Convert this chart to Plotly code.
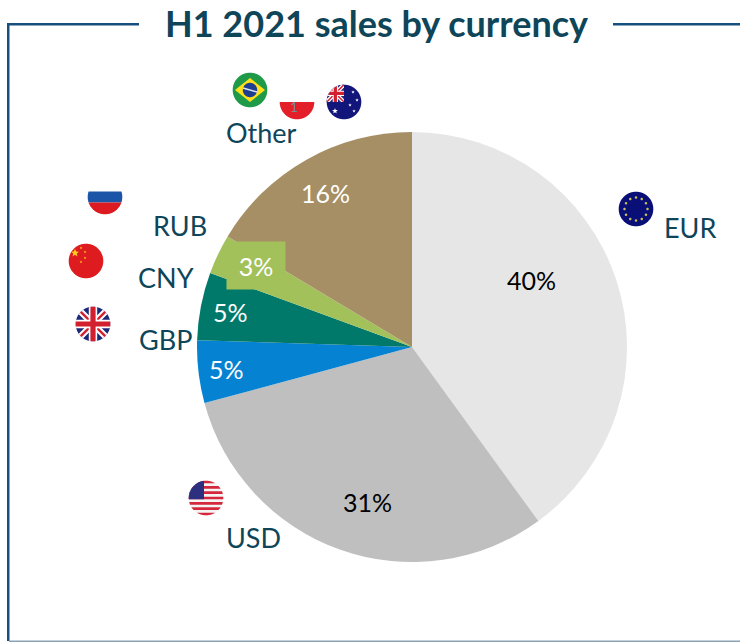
import numpy as np
import plotly.graph_objects as go

W, H = 740, 642
currencies = ["EUR", "USD", "GBP", "CNY", "RUB", "Other"]
shares = [40.0, 30.8, 4.7, 5.1, 3.0, 16.4]
slice_colors = ["#E6E6E6", "#BFBFBF", "#0583D2", "#00796B", "#A2C15A", "#A68F65"]
TITLE = "H1 2021 sales by currency"
NAVY = "#0E4559"
FRAME = "#17507F"

def px(x): return x / W
def py(y): return 1 - y / H

shapes, annotations = [], []

def poly(points, color):
    d = "M " + " L ".join(f"{px(x):.5f},{py(y):.5f}" for x, y in points) + " Z"
    shapes.append(dict(type="path", xref="paper", yref="paper", path=d,
                       fillcolor=color, line=dict(width=0), layer="above"))

def circle_points(cx, cy, r, n=72):
    t = np.linspace(0, 2 * np.pi, n, endpoint=False)
    return list(zip(cx + r * np.cos(t), cy + r * np.sin(t)))

def clip(subject, clipper):
    # Sutherland-Hodgman against a convex polygon
    out = list(subject)
    for i in range(len(clipper)):
        a, b = clipper[i], clipper[(i + 1) % len(clipper)]
        side = lambda p: (b[0]-a[0])*(p[1]-a[1]) - (b[1]-a[1])*(p[0]-a[0])
        cur, out = out, []
        for j in range(len(cur)):
            p, q = cur[j], cur[(j + 1) % len(cur)]
            d1, d2 = side(p), side(q)
            if (d1 >= 0) != (d2 >= 0):
                s = d1 / (d1 - d2)
                out.append((p[0] + s*(q[0]-p[0]), p[1] + s*(q[1]-p[1])))
            if d2 >= 0:
                out.append(q)
        if not out:
            return []
    return out

def cpoly(cx, cy, r, points, color):
    res = clip(points, circle_points(cx, cy, r))
    if len(res) > 2:
        poly(res, color)

def rect(x0, y0, x1, y1):
    return [(x0, y0), (x1, y0), (x1, y1), (x0, y1)]

def bar(x0, y0, x1, y1, w):
    dx, dy = x1 - x0, y1 - y0
    L = np.hypot(dx, dy)
    nx, ny = -dy / L * w / 2, dx / L * w / 2
    return [(x0+nx, y0+ny), (x1+nx, y1+ny), (x1-nx, y1-ny), (x0-nx, y0-ny)]

def star(cx, cy, r, color):
    pts = []
    for k in range(10):
        a = -np.pi / 2 + k * np.pi / 5
        rr = r if k % 2 == 0 else r * 0.42
        pts.append((cx + rr * np.cos(a), cy + rr * np.sin(a)))
    poly(pts, color)

def union_jack(cx, cy, r, x0, y0, x1, y1, scale=1.0):
    box = rect(x0, y0, x1, y1)
    mx, my = (x0 + x1) / 2, (y0 + y1) / 2
    cpoly(cx, cy, r, box, "#1B2A78")
    def put(pts, col):
        c = clip(clip(pts, box), circle_points(cx, cy, r))
        if len(c) > 2:
            poly(c, col)
    for a, b in [((x0, y0), (x1, y1)), ((x0, y1), (x1, y0))]:
        put(bar(a[0], a[1], b[0], b[1], 6.5 * scale), "#FFFFFF")
        put(bar(a[0], a[1], b[0], b[1], 2.4 * scale), "#D3202F")
    put(rect(mx - 4.2*scale, y0, mx + 4.2*scale, y1), "#FFFFFF")
    put(rect(x0, my - 4.2*scale, x1, my + 4.2*scale), "#FFFFFF")
    put(rect(mx - 2.6*scale, y0, mx + 2.6*scale, y1), "#D3202F")
    put(rect(x0, my - 2.6*scale, x1, my + 2.6*scale), "#D3202F")

R = 17.3

# Brazil
cx, cy = 250, 90
poly(circle_points(cx, cy, R), "#1F9A48")
poly([(cx - 15, cy), (cx, cy - 12), (cx + 15, cy), (cx, cy + 12)], "#FFE01B")
poly(circle_points(cx, cy, 7.2), "#1E3F8F")
poly(bar(cx - 7, cy - 2, cx + 7, cy + 2, 1.4), "#DDE6F2")

# Poland
cx, cy = 297, 102
cpoly(cx, cy, R, rect(cx - R, cy, cx + R, cy + R), "#E3202A")

# Australia
cx, cy = 344, 102
poly(circle_points(cx, cy, R), "#12157A")
union_jack(cx, cy, R, cx - R, cy - R, cx, cy, 0.62)
star(cx - 9, cy + 9, 3.0, "#FFFFFF")
for dx, dy in [(9, -10), (13, -2), (6, 3), (10, 9)]:
    star(cx + dx, cy + dy, 1.8, "#FFFFFF")

# Russia
cx, cy = 105, 197
cpoly(cx, cy, R, rect(cx - R, cy - 5.5, cx + R, cy + 5.5), "#1A55A8")
cpoly(cx, cy, R, rect(cx - R, cy + 5.5, cx + R, cy + R), "#DC1A22")

# China
cx, cy = 86, 261
poly(circle_points(cx, cy, R), "#DE1C1F")
star(cx - 11, cy - 8, 4.2, "#FFD21F")
for dx, dy in [(-5, -13), (-1, -9), (-1, -3), (-5, 1)]:
    star(cx + dx, cy + dy, 1.4, "#FFD21F")

# United Kingdom
cx, cy = 93, 324
poly(circle_points(cx, cy, R), "#FFFFFF")
union_jack(cx, cy, R, cx - R, cy - R, cx + R, cy + R, 1.0)

# United States
cx, cy = 206, 498
poly(circle_points(cx, cy, R), "#F4F4F4")
h = 2 * R / 13
for k in range(0, 13, 2):
    cpoly(cx, cy, R, rect(cx - R, cy - R + k * h, cx + R, cy - R + (k + 1) * h), "#D5283C")
cpoly(cx, cy, R, rect(cx - R, cy - R, cx - 2, cy - R + 7 * h), "#2D2F7F")

# EU
cx, cy = 636, 209
poly(circle_points(cx, cy, R), "#0A0F78")
for a in np.arange(12) * np.pi / 6:
    poly(circle_points(cx + 11.5 * np.cos(a), cy + 11.5 * np.sin(a), 1.3, 10), "#C9BE5A")

# Frame
poly(rect(7, 23, 9.5, 641), FRAME)
poly(rect(7, 23, 139, 25.5), FRAME)
poly(rect(613, 23, 740, 25.5), FRAME)
poly(rect(9, 640.5, 740, 642), "#8BA3B4")

def text(x, y, s, size, color, bold=False, **kw):
    annotations.append(dict(
        x=px(x), y=py(y), xref="paper", yref="paper", text=f"<b>{s}</b>" if bold else s,
        showarrow=False, xanchor="center", yanchor="middle",
        font=dict(family="Lato", size=size, color=color), **kw))

text(376, 23, TITLE, 36, NAVY, bold=True)

# Category labels
label_px = [(690, 227), (253, 537), (165, 339), (166, 277), (180, 225), (261, 133)]
for name, (x, y) in zip(currencies, label_px):
    text(x, y, name, 27, NAVY)

# Value labels
value_px = [(531, 280), (367, 502), (227, 369), (230, 312), (256, 265), (325, 193)]
value_col = ["#000000", "#000000", "#FFFFFF", "#FFFFFF", "#FFFFFF", "#FFFFFF"]
for i, (v, (x, y), c) in enumerate(zip(shares, value_px, value_col)):
    if currencies[i] == "RUB":
        text(x, y, f"{v:.0f}%", 25, c, bgcolor=slice_colors[i], width=56, height=45, align="center", valign="middle")
    else:
        text(x, y, f"{v:.0f}%", 25, c)

# Poland's stray "1"
text(293.5, 106, "1", 14, "#7F8A8F")

fig = go.Figure(go.Pie(
    labels=currencies, values=shares, sort=False, direction="clockwise", rotation=0,
    marker=dict(colors=slice_colors, line=dict(width=0)), textinfo="none", showlegend=False,
    domain=dict(x=[px(197), px(627)], y=[py(562), py(132)]),
))
fig.update_layout(width=W, height=H, margin=dict(l=0, r=0, t=0, b=0),
                  paper_bgcolor="#FFFFFF", plot_bgcolor="#FFFFFF",
                  shapes=shapes, annotations=annotations, showlegend=False)
fig.write_html("out.html", config=dict(displayModeBar=False),
               post_script="document.body.style.margin='0';document.documentElement.style.overflow='hidden';")
